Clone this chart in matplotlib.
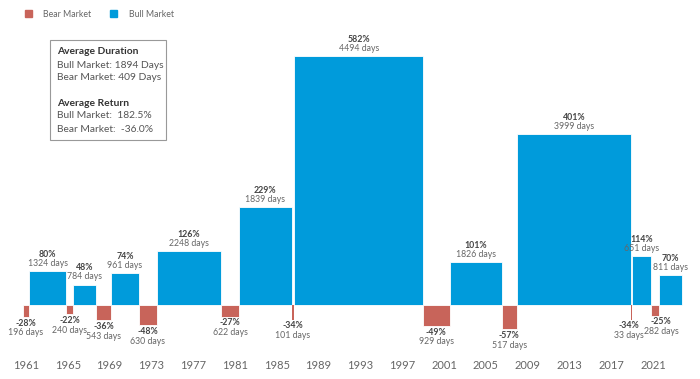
import numpy as np
import matplotlib
matplotlib.use("Agg")
import matplotlib.pyplot as plt
from matplotlib.patches import Patch, Rectangle

# market phases in order, starting late 1961
kinds = ["bear", "bull", "bear", "bull", "bear", "bull", "bear", "bull", "bear", "bull",
         "bear", "bull", "bear", "bull", "bear", "bull", "bear", "bull", "bear", "bull"]
returns = [-28, 80, -22, 48, -36, 74, -48, 126, -27, 229,
           -34, 582, -49, 101, -57, 401, -34, 114, -25, 70]
days = [196, 1324, 240, 784, 543, 961, 630, 2248, 622, 1839,
        101, 4494, 929, 1826, 517, 3999, 33, 651, 282, 811]
tick_years = list(range(1961, 2022, 4))
start_year = 1960.71

BLUE = "#009BDB"
RED = "#C8645A"
plt.rcParams['font.family'] = ['Lato', 'DejaVu Sans']

fig = plt.figure(figsize=(7, 3.79), dpi=100)
ax = fig.add_axes([0, 29 / 379, 1, 350 / 379])

widths = np.array(days) / 365.25
lefts = start_year + np.concatenate([[0], np.cumsum(widths)[:-1]])
colors = [BLUE if k == "bull" else RED for k in kinds]
lw = [0.6 if d > 150 else 0 for d in days]
ax.bar(lefts, returns, widths, align="edge", color=colors, edgecolor="white", linewidth=lw)

# small sideways nudges so the crowded labels near 2020 don't collide
nudge = {16: -2, 18: 4.5}
for i, (x, w, r, d) in enumerate(zip(lefts, widths, returns, days)):
    cx = x + w / 2
    dx = nudge.get(i, 0)
    if r > 0:
        ax.annotate(f"{r}%", (cx, r), xytext=(dx, 12), textcoords="offset points",
                    ha="center", va="center", fontsize=6.3, fontweight="bold", color="#444444")
        ax.annotate(f"{d} days", (cx, r), xytext=(dx, 5.5), textcoords="offset points",
                    ha="center", va="center", fontsize=6.3, color="#666666")
    else:
        ax.annotate(f"{r}%", (cx, r), xytext=(dx, -4.5), textcoords="offset points",
                    ha="center", va="center", fontsize=6.3, fontweight="bold", color="#444444")
        ax.annotate(f"{d} days", (cx, r), xytext=(dx, -11.5), textcoords="offset points",
                    ha="center", va="center", fontsize=6.3, color="#666666")

ax.set_xlim(1958.51, 1958.51 + 700 / 10.45)
ax.set_ylim(-45 / 0.427, 305 / 0.427)
ax.set_xticks(tick_years)
ax.set_xticklabels([str(y) for y in tick_years], fontsize=8, color="#666666")
ax.tick_params(axis="x", length=0, pad=7)
ax.set_yticks([])
for s in ax.spines.values():
    s.set_visible(False)

# legend
handles = [Patch(color=RED, label="Bear Market"), Patch(color=BLUE, label="Bull Market")]
fig.legend(handles=handles, loc="upper left", bbox_to_anchor=(0.024, 0.995), ncol=2,
           frameon=False, fontsize=6.3, handlelength=0.85, handleheight=0.85,
           columnspacing=2.1, handletextpad=1.3, labelcolor="#666666")

# summary box
W, H = 700, 379
fig.patches.append(Rectangle((50 / W, 1 - 140 / H), 116 / W, 100 / H, transform=fig.transFigure,
                             fill=False, edgecolor="#999999", linewidth=0.8))
lines = [("Average Duration", 52, "bold"), ("Bull Market: 1894 Days", 65, "normal"),
         ("Bear Market: 409 Days", 78, "normal"), ("Average Return", 103, "bold"),
         ("Bull Market:  182.5%", 116, "normal"), ("Bear Market:  -36.0%", 129, "normal")]
for txt, y, wgt in lines:
    fig.text(57 / W, 1 - y / H, txt, fontsize=7.4, fontweight=wgt, va="center", ha="left",
             color="#333333" if wgt == "bold" else "#555555")

fig.savefig("out.png", dpi=100)
